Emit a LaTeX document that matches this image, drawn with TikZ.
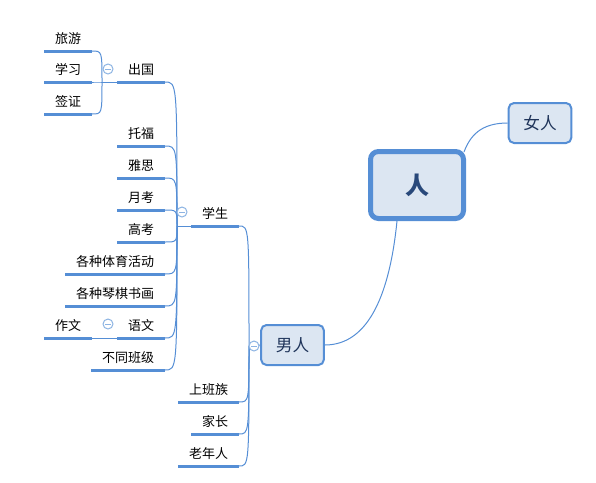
\documentclass[tikz,border=0pt]{standalone}
\usepackage{fontspec}
\setmainfont{Noto Sans CJK SC}
\definecolor{xazul}{RGB}{85,142,213}
\definecolor{xfondo}{RGB}{220,230,242}
\definecolor{xpliegue}{RGB}{141,180,227}
\definecolor{xtexto}{RGB}{31,52,90}
\definecolor{xraiz}{RGB}{40,72,122}

\begin{document}
\begin{tikzpicture}[x=0.75pt, y=-0.75pt,
    tema/.style={anchor=south east, inner xsep=8.25pt, inner ysep=3pt, outer sep=0pt,
      text height=8.6pt, text depth=3pt, font=\fontsize{9.75}{11}\selectfont},
    subrayado/.style={xazul, line width=2.25pt},
    caja/.style={draw=xazul, fill=xfondo, line width=1.5pt, rounded corners=4pt,
      minimum width=47pt, minimum height=30pt, text=xtexto, font=\fontsize{12.5}{14}\selectfont},
    raiz/.style={caja, line width=3.75pt, rounded corners=6pt, minimum width=69.75pt,
      minimum height=50.25pt, text=xraiz, font=\fontsize{18}{20}\selectfont\bfseries},
    rama/.style={xazul, line width=0.75pt},
    pliegue/.style={circle, draw=xpliegue, fill=white, line width=0.75pt, minimum size=7.5pt,
      inner sep=0pt, path picture={\draw[xpliegue, line width=0.75pt]
        ([xshift=-2pt]path picture bounding box.center) -- ([xshift=2pt]path picture bounding box.center);}}]
    \useasboundingbox (0,0) rectangle (596,482);

    % Tema central y temas principales
    \node[raiz] (ren) at (417,185) {人};
    \node[caja] (nvren) at (540,123) {女人};
    \node[caja] (nanren) at (292.5,345) {男人};

    % Subtemas de 男人
    \node[tema] (xuesheng) at (239,226) {学生};
    \node[tema] (shangban) at (239,402) {上班族};
    \node[tema] (jiazhang) at (239,434) {家长};
    \node[tema] (laonian) at (239,466) {老年人};

    % Subtemas de 学生
    \node[tema] (chuguo) at (165,82) {出国};
    \node[tema] (tuofu) at (165,146) {托福};
    \node[tema] (yasi) at (165,178) {雅思};
    \node[tema] (yuekao) at (165,210) {月考};
    \node[tema] (gaokao) at (165,242) {高考};
    \node[tema] (tiyu) at (165,274) {各种体育活动};
    \node[tema] (qinqi) at (165,306) {各种琴棋书画};
    \node[tema] (yuwen) at (165,338) {语文};
    \node[tema] (banji) at (165,370) {不同班级};

    % Subtemas de 出国 y 语文
    \node[tema] (lvyou) at (92,51) {旅游};
    \node[tema] (xuexi) at (92,82) {学习};
    \node[tema] (qianzheng) at (92,114) {签证};
    \node[tema] (zuowen) at (92,338) {作文};

    % Puntos de union
    \coordinate (jnan) at (249,346);
    \coordinate (jxs) at (177,226);
    \coordinate (jcg) at (102,82);

    % Ramas
    \draw[rama] ([shift={(-2,3)}]ren.north east) .. controls +(6,-16) and +(-27,0) .. (nvren.west);
    \draw[rama] ([shift={(-20,0)}]ren.south) .. controls +(-7,70) and +(45,0) .. (nanren.east);
    \draw[rama] (nanren.west) -- (jnan);
    \foreach \h in {xuesheng, shangban, jiazhang, laonian}
        \draw[rama] (jnan) .. controls (jnan |- \h.south east) .. (\h.south east);
    \draw[rama] (xuesheng.south west) -- (jxs);
    \foreach \h in {chuguo, tuofu, yasi, yuekao, gaokao, tiyu, qinqi, yuwen, banji}
        \draw[rama] (jxs) .. controls (jxs |- \h.south east) .. (\h.south east);
    \draw[rama] (chuguo.south west) -- (jcg);
    \foreach \h in {lvyou, xuexi, qianzheng}
        \draw[rama] (jcg) .. controls (jcg |- \h.south east) .. (\h.south east);
    \draw[rama] (yuwen.south west) -- (zuowen.south east);

    % Subrayados
    \foreach \h in {xuesheng, shangban, jiazhang, laonian, chuguo, tuofu, yasi, yuekao, gaokao,
        tiyu, qinqi, yuwen, banji, lvyou, xuexi, qianzheng, zuowen}
        \draw[subrayado] (\h.south west) -- (\h.south east);

    % Botones de plegado
    \node[pliegue] (fnan) at (254,346) {};
    \node[pliegue] (fxs) at (182,212) {};
    \node[pliegue] (fcg) at (108,69) {};
    \node[pliegue] (fyw) at (108,324) {};
\end{tikzpicture}
\end{document}
